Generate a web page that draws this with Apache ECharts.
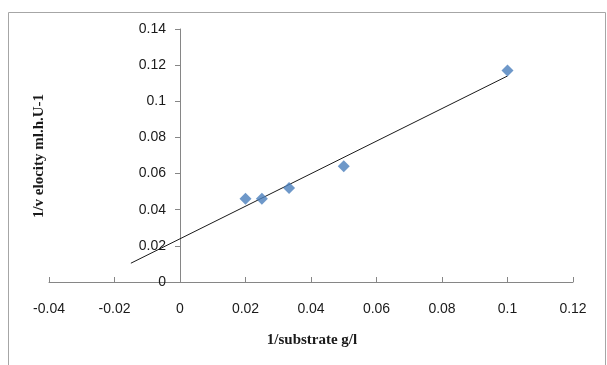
<!DOCTYPE html>
<html>
<head>
<meta charset="utf-8">
<script src="https://cdn.jsdelivr.net/npm/echarts@6/dist/echarts.min.js"></script>
<style>
html,body{margin:0;padding:0;background:#fff;}
#chart{width:607px;height:365px;}
</style>
</head>
<body>
<div id="chart"></div>
<script>
// Data
var substrateInv = [0.02, 0.025, 0.0333, 0.05, 0.1];
var velocityInv = [0.046, 0.046, 0.052, 0.064, 0.117];
// Trend line endpoints
var trendX = [-0.015, 0.1];
var trendY = [0.0104, 0.114];
var xTitle = '1/substrate g/l';
var yTitle = '1/v elocity ml.h.U-1';

var points = substrateInv.map(function (x, i) { return [x, velocityInv[i]]; });
var trend = trendX.map(function (x, i) { return [x, trendY[i]]; });

var chart = echarts.init(document.getElementById('chart'), null, {renderer: 'canvas'});
var axisColor = '#868686';
var labelFont = {fontFamily: 'Liberation Sans', fontSize: 14, color: '#1a1a1a'};
var gridLeft = 49, gridRight = 34;
var xMin = -0.04, xMax = 0.12;
var plotW = 607 - gridLeft - gridRight;
var yAxisShift = (0 - xMin) / (xMax - xMin) * plotW;
chart.setOption({
  animation: false,
  backgroundColor: '#fff',
  grid: {left: gridLeft, right: gridRight, top: 29, bottom: 83, containLabel: false},
  graphic: [
    {type: 'rect', shape: {x: 8.5, y: 12.5, width: 597, height: 360}, style: {fill: 'none', stroke: '#a6a6a6', lineWidth: 1}, silent: true},
    {type: 'text', x: 312, y: 340, style: {text: xTitle, font: 'bold 15px "Liberation Serif"', fill: '#1a1a1a', textAlign: 'center', textVerticalAlign: 'middle'}},
    {type: 'text', x: 39, y: 156, rotation: Math.PI / 2, style: {text: yTitle, font: 'bold 15px "Liberation Serif"', fill: '#1a1a1a', textAlign: 'center', textVerticalAlign: 'middle'}}
  ],
  xAxis: {
    type: 'value', min: xMin, max: xMax, interval: 0.02,
    axisLine: {show: true, onZero: false, lineStyle: {color: axisColor}},
    axisTick: {show: true, inside: true, length: 5, lineStyle: {color: axisColor}},
    axisLabel: Object.assign({margin: 20, formatter: function (v) { return +v.toFixed(2) + ''; }}, labelFont),
    splitLine: {show: false}
  },
  yAxis: {
    type: 'value', min: 0, max: 0.14, interval: 0.02,
    offset: -yAxisShift,
    axisLine: {show: true, onZero: false, lineStyle: {color: axisColor}},
    axisTick: {show: true, inside: false, length: 5, lineStyle: {color: axisColor}},
    axisLabel: Object.assign({margin: 14, formatter: function (v) { return +v.toFixed(2) + ''; }}, labelFont),
    splitLine: {show: false}
  },
  series: [
    {
      type: 'line', data: trend, symbol: 'none',
      lineStyle: {color: '#1a1a1a', width: 1}, z: 2
    },
    {
      type: 'scatter', data: points, symbol: 'diamond', symbolSize: 12,
      itemStyle: {color: '#4A7EBB'}, z: 3
    }
  ]
});
</script>
</body>
</html>
